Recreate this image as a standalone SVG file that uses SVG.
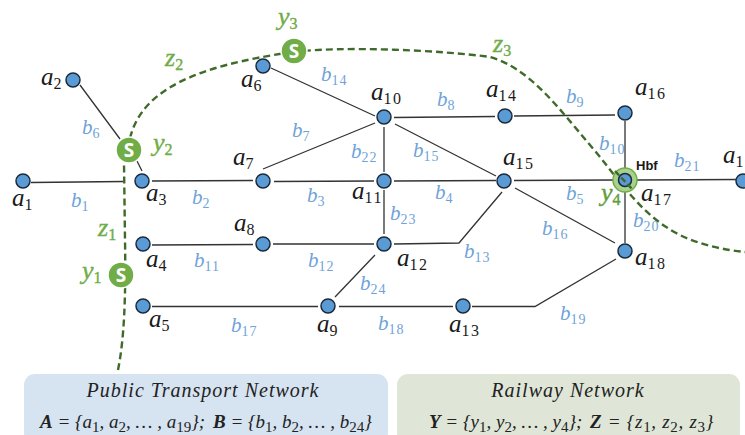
<svg xmlns="http://www.w3.org/2000/svg" width="745" height="435" viewBox="0 0 745 435">
<style>
text{font-family:"Liberation Serif","DejaVu Serif",serif;font-style:italic}
.n{fill:#5b9bd5;stroke:#1b2b3c;stroke-width:1.5}
.e{stroke:#333;stroke-width:1.3;fill:none}
.z{stroke:#3f6b2a;stroke-width:2.4;fill:none;stroke-dasharray:7 4}
.a{font-size:25px;fill:#1a1a1a}
.a .s{font-size:16px;letter-spacing:1.5px}
.b{font-size:21px;fill:#6fa3d8}
.b .s{font-size:14px;letter-spacing:1px}
.g{font-size:26px;fill:#70ad47;stroke:#70ad47;stroke-width:.4}
.g .s{font-size:16px}
.s{font-style:normal}
.st{fill:#70ad47;stroke:#fff;stroke-width:1.5}
.sl{font-family:"Open Sans","Liberation Sans",sans-serif;font-style:normal;font-weight:700;font-size:19px;fill:#fff;text-anchor:middle}
.t{font-size:20px;fill:#222;text-anchor:middle;letter-spacing:1px}
.m{font-size:19px;fill:#222}
.m .s{font-size:15px}
.mb{font-weight:700}
</style>
<g id="panels">
<rect x="24" y="374" width="364" height="70" rx="11" fill="#d6e3f0"/>
<rect x="397" y="374" width="343" height="70" rx="11" fill="#dfe6d8"/>
<text class="t" x="203" y="397">Public Transport Network</text>
<text class="t" x="568" y="397">Railway Network</text>
<text class="m" x="40" y="428"><tspan class="mb">A</tspan> = {a<tspan class="s" dy="4">1</tspan><tspan dy="-4">, a</tspan><tspan class="s" dy="4">2</tspan><tspan dy="-4">, … , a</tspan><tspan class="s" dy="4">19</tspan><tspan dy="-4">};</tspan></text>
<text class="m" x="213" y="428"><tspan class="mb">B</tspan> = {b<tspan class="s" dy="4">1</tspan><tspan dy="-4">, b</tspan><tspan class="s" dy="4">2</tspan><tspan dy="-4">, … , b</tspan><tspan class="s" dy="4">24</tspan><tspan dy="-4">}</tspan></text>
<text class="m" x="429" y="428"><tspan class="mb">Y</tspan> = {y<tspan class="s" dy="4">1</tspan><tspan dy="-4">, y</tspan><tspan class="s" dy="4">2</tspan><tspan dy="-4">, … , y</tspan><tspan class="s" dy="4">4</tspan><tspan dy="-4">};</tspan></text>
<text class="m" x="590" y="428" style="letter-spacing:.7px"><tspan class="mb">Z</tspan> = {z<tspan class="s" dy="4">1</tspan><tspan dy="-4">, z</tspan><tspan class="s" dy="4">2</tspan><tspan dy="-4">, z</tspan><tspan class="s" dy="4">3</tspan><tspan dy="-4">}</tspan></text>
</g>
<g id="connectors">
<path class="e" d="M31 182.500L124 181.500M152 181L253 180.500M274 181.500L374 181M394 181L496 180.500M514 180.500L615 180M635 180L737 179.500M80 85L120 139M137 161L142 171M271 68L375 116M263 169L375 123M394 117.500L495 116.500M514 116L615 115M625 121L625 170M625 190L625 243M395 124L496 176M384 127L384 172M384 190L384 234M502 192L459 243L394 244M515 188L615 243M152 245L253 244.500M273 244L374 244M375 255L335 297M152 306.500L318 306.500M339 306.500L453 306.500M472 306.500L535 306.500L616 259"/>
<path class="z" d="M118 370C124 340 126 300 125 240L124 163"/>
<path class="z" d="M130 138C142 90 195 66 293 52"/>
<path class="z" d="M293 52C340 46 440 50 490 57C530 68 560 110 590 145C620 180 640 215 680 235C700 245 725 250 745 252"/>
<text class="b" x="71" y="207">b<tspan class="s" dy="4">1</tspan></text>
<text class="b" x="192" y="204">b<tspan class="s" dy="4">2</tspan></text>
<text class="b" x="307" y="202">b<tspan class="s" dy="4">3</tspan></text>
<text class="b" x="435" y="199">b<tspan class="s" dy="4">4</tspan></text>
<text class="b" x="566" y="200">b<tspan class="s" dy="4">5</tspan></text>
<text class="b" x="82" y="134">b<tspan class="s" dy="4">6</tspan></text>
<text class="b" x="292" y="137">b<tspan class="s" dy="4">7</tspan></text>
<text class="b" x="437" y="106">b<tspan class="s" dy="4">8</tspan></text>
<text class="b" x="566" y="103">b<tspan class="s" dy="4">9</tspan></text>
<text class="b" x="599" y="150">b<tspan class="s" dy="4">10</tspan></text>
<text class="b" x="194" y="267">b<tspan class="s" dy="4">11</tspan></text>
<text class="b" x="308" y="267">b<tspan class="s" dy="4">12</tspan></text>
<text class="b" x="464" y="258">b<tspan class="s" dy="4">13</tspan></text>
<text class="b" x="321" y="81">b<tspan class="s" dy="4">14</tspan></text>
<text class="b" x="413" y="157">b<tspan class="s" dy="4">15</tspan></text>
<text class="b" x="542" y="235">b<tspan class="s" dy="4">16</tspan></text>
<text class="b" x="231" y="332">b<tspan class="s" dy="4">17</tspan></text>
<text class="b" x="378" y="330">b<tspan class="s" dy="4">18</tspan></text>
<text class="b" x="560" y="320">b<tspan class="s" dy="4">19</tspan></text>
<text class="b" x="633" y="227">b<tspan class="s" dy="4">20</tspan></text>
<text class="b" x="674" y="167">b<tspan class="s" dy="4">21</tspan></text>
<text class="b" x="351" y="158">b<tspan class="s" dy="4">22</tspan></text>
<text class="b" x="390" y="220">b<tspan class="s" dy="4">23</tspan></text>
<text class="b" x="360" y="290">b<tspan class="s" dy="4">24</tspan></text>
<text class="g" x="165" y="66">z<tspan class="s" dy="4">2</tspan></text>
<text class="g" x="493" y="52">z<tspan class="s" dy="4">3</tspan></text>
<text class="g" x="98" y="236">z<tspan class="s" dy="4">1</tspan></text>
</g>
<g id="a1"><circle class="n" cx="23" cy="181" r="7"/><text class="a" x="12" y="206">a<tspan class="s" dy="4">1</tspan></text></g>
<g id="a2"><circle class="n" cx="73" cy="80" r="7"/><text class="a" x="41" y="85">a<tspan class="s" dy="4">2</tspan></text></g>
<g id="a3"><circle class="n" cx="142" cy="181" r="7"/><text class="a" x="146" y="201">a<tspan class="s" dy="4">3</tspan></text></g>
<g id="a4"><circle class="n" cx="143" cy="244" r="7"/><text class="a" x="146" y="267">a<tspan class="s" dy="4">4</tspan></text></g>
<g id="a5"><circle class="n" cx="143" cy="306" r="7"/><text class="a" x="149" y="327">a<tspan class="s" dy="4">5</tspan></text></g>
<g id="a6"><circle class="n" cx="263" cy="66" r="7"/><text class="a" x="241" y="87">a<tspan class="s" dy="4">6</tspan></text></g>
<g id="a7"><circle class="n" cx="263" cy="181" r="7"/><text class="a" x="233" y="165">a<tspan class="s" dy="4">7</tspan></text></g>
<g id="a8"><circle class="n" cx="263" cy="244" r="7"/><text class="a" x="234" y="231">a<tspan class="s" dy="4">8</tspan></text></g>
<g id="a9"><circle class="n" cx="328" cy="306" r="7"/><text class="a" x="317" y="332">a<tspan class="s" dy="4">9</tspan></text></g>
<g id="a10"><circle class="n" cx="384" cy="117" r="7"/><text class="a" x="371" y="100">a<tspan class="s" dy="4">10</tspan></text></g>
<g id="a11"><circle class="n" cx="384" cy="181" r="7"/><text class="a" x="352" y="199">a<tspan class="s" dy="4">11</tspan></text></g>
<g id="a12"><circle class="n" cx="384" cy="244" r="7"/><text class="a" x="397" y="266">a<tspan class="s" dy="4">12</tspan></text></g>
<g id="a13"><circle class="n" cx="463" cy="306" r="7"/><text class="a" x="449" y="332">a<tspan class="s" dy="4">13</tspan></text></g>
<g id="a14"><circle class="n" cx="505" cy="116" r="7"/><text class="a" x="486" y="97">a<tspan class="s" dy="4">14</tspan></text></g>
<g id="a15"><circle class="n" cx="504" cy="181" r="7"/><text class="a" x="503" y="165">a<tspan class="s" dy="4">15</tspan></text></g>
<g id="a16"><circle class="n" cx="625" cy="113" r="7"/><text class="a" x="635" y="95">a<tspan class="s" dy="4">16</tspan></text></g>
<g id="a17"><circle cx="625" cy="180" r="12" fill="#a9d18e" stroke="#70ad47" stroke-width="1.5"/><circle class="n" cx="625" cy="180" r="6.500"/><path d="M615 171L633 190" stroke="#3f6b2a" stroke-width="2.400" stroke-dasharray="6 3"/><text class="a" x="641" y="201">a<tspan class="s" dy="4">17</tspan></text><text x="636" y="170" style="font-family:'Liberation Sans',sans-serif;font-style:normal;font-weight:700;font-size:13px;fill:#1a1a1a">Hbf</text></g>
<g id="a18"><circle class="n" cx="625" cy="251" r="7"/><text class="a" x="635" y="265">a<tspan class="s" dy="4">18</tspan></text></g>
<g id="a19"><circle class="n" cx="743" cy="181" r="7"/><text class="a" x="723" y="163">a<tspan class="s" dy="4">1</tspan></text></g>
<g id="y1"><circle class="st" cx="121" cy="275" r="13"/><text class="sl" x="121" y="282">S</text><text class="g" x="82" y="279">y<tspan class="s" dy="4">1</tspan></text></g>
<g id="y2"><circle class="st" cx="129" cy="150" r="13"/><text class="sl" x="129" y="157">S</text><text class="g" x="153" y="151">y<tspan class="s" dy="4">2</tspan></text></g>
<g id="y3"><circle class="st" cx="294" cy="51" r="13"/><text class="sl" x="294" y="58">S</text><text class="g" x="278" y="25">y<tspan class="s" dy="4">3</tspan></text></g>
<g id="y4"><text class="g" x="601" y="201" style="fill:#5f9e3c;stroke:#5f9e3c">y<tspan class="s" dy="4">4</tspan></text></g>
</svg>
